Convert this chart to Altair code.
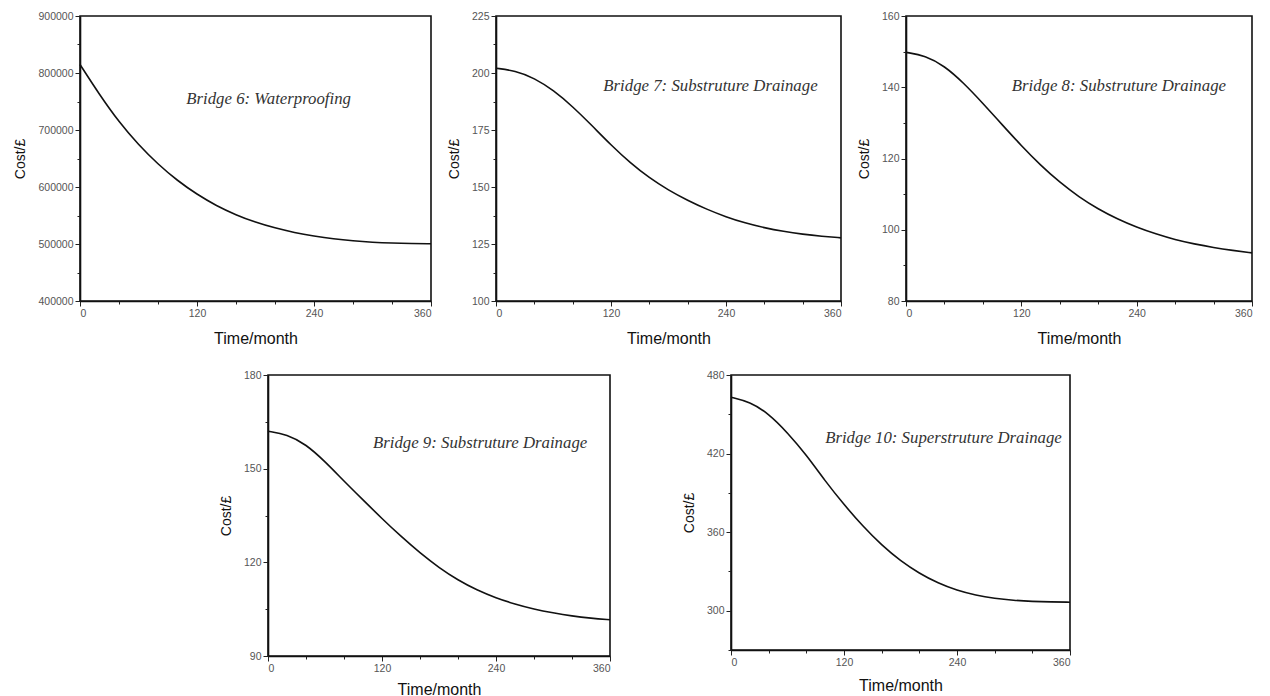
import altair as alt
import pandas as pd

# ---- data ----
months = [0, 20, 40, 60, 80, 100, 120, 140, 160, 180, 200, 220, 240, 260, 280, 300, 320, 340, 360]

bridge6 = [815000, 762000, 714000, 674000, 640000, 611000, 587000, 567000, 551000, 538000,
           528000, 520000, 514000, 509000, 505500, 503000, 501500, 500800, 500500]
bridge7 = [202.1, 201.0, 197.8, 192.4, 185.3, 177.0, 168.4, 160.6, 154.0, 148.6,
           144.1, 140.2, 136.9, 134.2, 132.1, 130.5, 129.3, 128.4, 127.7]
bridge8 = [149.8, 148.9, 146.0, 141.2, 135.5, 129.5, 123.6, 118.1, 113.3, 109.2,
           105.8, 103.0, 100.7, 98.8, 97.2, 96.0, 95.0, 94.2, 93.5]
bridge9 = [162.0, 161.0, 157.8, 152.3, 146.0, 140.0, 134.0, 128.3, 123.0, 118.3,
           114.3, 111.1, 108.6, 106.6, 105.0, 103.8, 102.8, 102.1, 101.6]
bridge10 = [463.0, 459.5, 450.5, 436.0, 419.0, 399.0, 381.0, 364.5, 350.0, 338.0,
            328.5, 321.0, 315.5, 311.8, 309.4, 307.9, 307.1, 306.7, 306.5]

labels = ["Bridge 6: Waterproofing",
          "Bridge 7: Substruture Drainage",
          "Bridge 8: Substruture Drainage",
          "Bridge 9: Substruture Drainage",
          "Bridge 10: Superstruture Drainage"]

x_ticks = [0, 40, 80, 120, 160, 200, 240, 280, 320, 360]
y6_ticks = [400000, 450000, 500000, 550000, 600000, 650000, 700000, 750000, 800000, 850000, 900000]
y7_ticks = [100, 112.5, 125, 137.5, 150, 162.5, 175, 187.5, 200, 212.5, 225]
y8_ticks = [80, 90, 100, 110, 120, 130, 140, 150, 160]
y9_ticks = [90, 105, 120, 135, 150, 165, 180]
y10_ticks = [270, 300, 330, 360, 390, 420, 450, 480]


def panel(values, y_ticks, y_step, label, lx, ly, w, h, xpad=12):
    df = pd.DataFrame({"Time": months, "Cost": values})
    lab = pd.DataFrame({"Time": [lx], "Cost": [ly], "label": [label]})
    x_enc = alt.X(
        "Time:Q",
        scale=alt.Scale(domain=[0, 360], nice=False, zero=False),
        axis=alt.Axis(
            values=x_ticks,
            labelExpr="datum.value % 120 == 0 ? datum.label : ''",
            labelOverlap=False,
            tickSize={"condition": {"test": "datum.value % 120 == 0", "value": 5}, "value": 3},
            title="Time/month",
            titleFontSize=16,
            titlePadding=xpad,
        ),
    )
    y_enc = alt.Y(
        "Cost:Q",
        scale=alt.Scale(domain=[y_ticks[0], y_ticks[-1]], nice=False, zero=False),
        axis=alt.Axis(
            values=y_ticks,
            format="d",
            labelExpr=f"datum.value % {y_step} == 0 ? datum.label : ''",
            labelOverlap=False,
            tickSize={"condition": {"test": f"datum.value % {y_step} == 0", "value": 5}, "value": 3},
            title="Cost/£",
            titleFontSize=14,
            titlePadding=10,
        ),
    )
    line = alt.Chart(df).mark_line(color="#111111", strokeWidth=1.6, interpolate="basis").encode(
        x=x_enc, y=y_enc
    )
    text = alt.Chart(lab).mark_text(
        align="left", baseline="middle", font="Liberation Serif", fontStyle="italic",
        fontSize=16.8, color="#333333"
    ).encode(x=x_enc, y=y_enc, text="label:N")
    return alt.layer(line, text).properties(width=w, height=h)


p1 = panel(bridge6, y6_ticks, 100000, labels[0], 109, 755000, 351, 285)
p2 = panel(bridge7, y7_ticks, 25, labels[1], 112, 194.5, 345, 285)
p3 = panel(bridge8, y8_ticks, 20, labels[2], 110, 140.3, 346, 285)
p4 = panel(bridge9, y9_ticks, 30, labels[3], 110.5, 158.2, 342, 281, xpad=8)
p5 = panel(bridge10, y10_ticks, 60, labels[4], 100, 431.9, 339, 275, xpad=10)

# invisible layout spacer that pushes the lower row to the right
spacer = alt.Chart(pd.DataFrame({"v": [0]})).mark_point(opacity=0).encode(
    x=alt.X("v:Q", axis=None), y=alt.Y("v:Q", axis=None)
).properties(width=67, height=10, view=alt.ViewBackground(stroke="transparent"))

top = alt.hconcat(p1, p2, p3, spacing=65, bounds="flush")
bottom = alt.hconcat(spacer, p4, p5, spacing=121, bounds="flush")

chart = alt.vconcat(top, bottom, spacing=21, bounds="full").properties(
    padding={"left": 5, "top": 2, "right": 0, "bottom": 0}
).configure_view(
    stroke="#111111", strokeWidth=1.6
).configure_axis(
    grid=False,
    labelOverlap=False,
    domainColor="#111111",
    domainWidth=1.6,
    tickColor="#222222",
    tickWidth=1,
    labelFont="Liberation Sans",
    labelFontSize=10.5,
    labelColor="#555555",
    labelPadding=2,
    titleFont="Liberation Sans",
    titleFontWeight="normal",
    titleColor="#111111",
)

chart.save("out.html", embed_options={"renderer": "svg", "actions": False})
